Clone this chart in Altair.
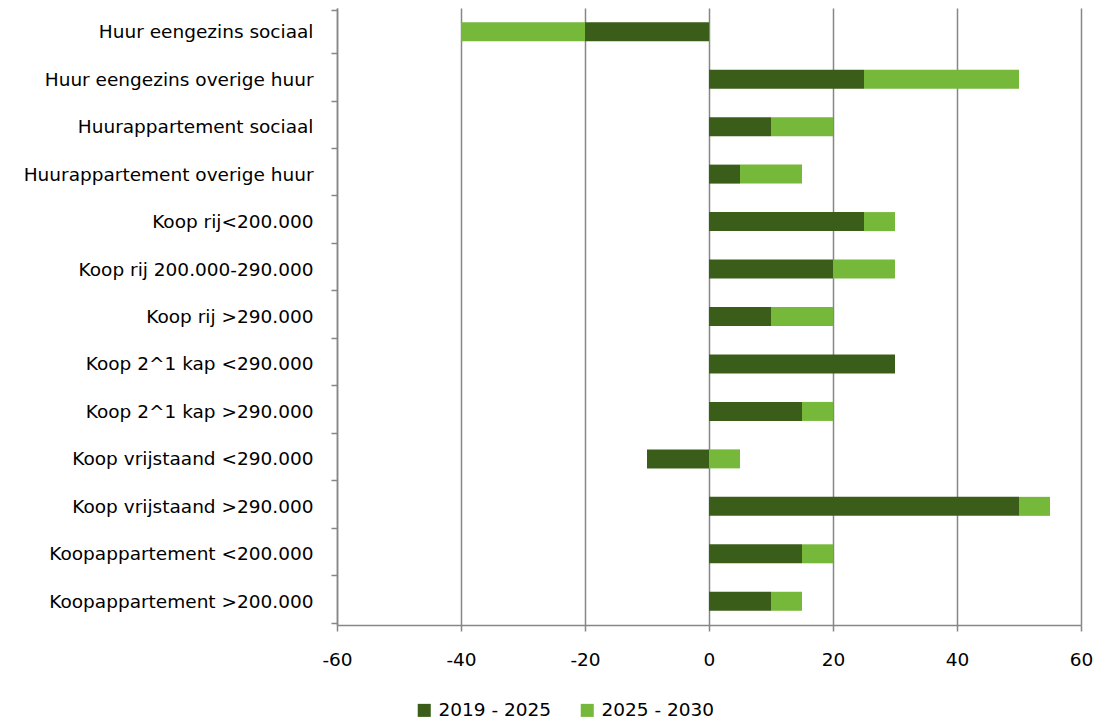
import altair as alt
import pandas as pd

categories = [
    "Huur eengezins sociaal",
    "Huur eengezins overige huur",
    "Huurappartement sociaal",
    "Huurappartement overige huur",
    "Koop rij<200.000",
    "Koop rij 200.000-290.000",
    "Koop rij >290.000",
    "Koop 2^1 kap <290.000",
    "Koop 2^1 kap >290.000",
    "Koop vrijstaand <290.000",
    "Koop vrijstaand >290.000",
    "Koopappartement <200.000",
    "Koopappartement >200.000",
]
series_names = ["2019 - 2025", "2025 - 2030"]
values_2019_2025 = [-20, 25, 10, 5, 25, 20, 10, 30, 15, -10, 50, 15, 10]
values_2025_2030 = [-20, 25, 10, 10, 5, 10, 10, 0, 5, 5, 5, 5, 5]
x_ticks = [-60, -40, -20, 0, 20, 40, 60]
colors = ["#3a5e1a", "#76b83a"]

rows = []
for i, c in enumerate(categories):
    rows.append({"cat": c, "series": series_names[0], "value": values_2019_2025[i], "order": 0})
    rows.append({"cat": c, "series": series_names[1], "value": values_2025_2030[i], "order": 1})
df = pd.DataFrame(rows)

FONT = "DejaVu Sans"
FS = 18.5

chart = alt.Chart(df).mark_bar(size=19).encode(
    y=alt.Y("cat:N", sort=categories, title=None,
            axis=alt.Axis(tickBand="extent", tickSize=6, tickColor="#868686", tickWidth=1.5,
                          domainColor="#868686", domainWidth=1.5, labelPadding=18,
                          labelFontSize=FS, labelFont=FONT, labelColor="#000000",
                          grid=False, labelLimit=400)),
    x=alt.X("value:Q", title=None, stack="zero",
            scale=alt.Scale(domain=[-60, 60], nice=False),
            axis=alt.Axis(values=x_ticks, tickSize=6, tickColor="#868686", tickWidth=1.5,
                          domainColor="#868686", domainWidth=1.5, labelPadding=19,
                          labelFlush=False, labelOverlap=False,
                          labelExpr="'' + datum.value",
                          labelFontSize=FS, labelFont=FONT, labelColor="#000000",
                          grid=True, gridColor="#868686", gridWidth=1.5)),
    color=alt.Color("series:N", scale=alt.Scale(domain=series_names, range=colors),
                    legend=alt.Legend(title=None, orient="none", direction="horizontal",
                                      legendX=78, legendY=693, padding=0, symbolType="square",
                                      symbolSize=170, symbolStrokeWidth=0,
                                      labelFontSize=FS, labelFont=FONT, labelColor="#000000",
                                      columnPadding=26, symbolOffset=0, labelOffset=5)),
    order=alt.Order("order:Q"),
).properties(
    width=744, height=617,
    padding={"left": 329, "top": 0, "right": 12, "bottom": 94},
    autosize=alt.AutoSizeParams(type="none"),
).configure_view(stroke=None)

chart.save("out.html", embed_options={"renderer": "svg", "actions": False})
